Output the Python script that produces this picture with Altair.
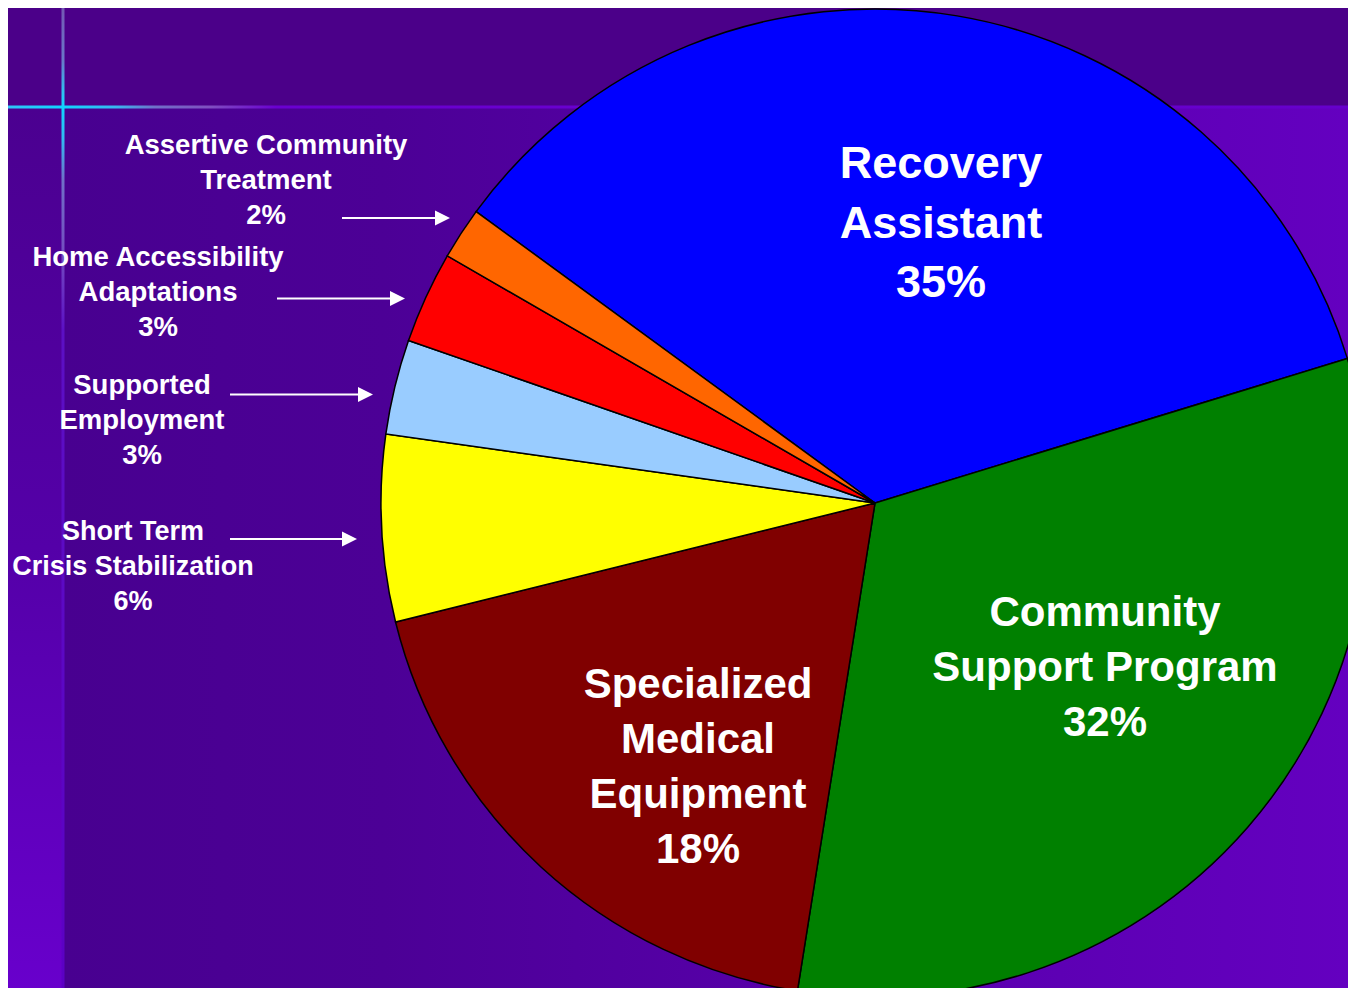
import math
import altair as alt
import pandas as pd

# ---------------- data ----------------
categories = [
    "Recovery Assistant",
    "Community Support Program",
    "Specialized Medical Equipment",
    "Short Term Crisis Stabilization",
    "Supported Employment",
    "Home Accessibility Adaptations",
    "Assertive Community Treatment",
]
shares = [35.2, 32.2, 18.6, 6.1, 3.1, 3.0, 1.7]
pct_labels = ["35%", "32%", "18%", "6%", "3%", "3%", "2%"]
label_text = [
    "Recovery\nAssistant",
    "Community\nSupport Program",
    "Specialized\nMedical\nEquipment",
    "Short Term\nCrisis Stabilization",
    "Supported\nEmployment",
    "Home Accessibility\nAdaptations",
    "Assertive Community\nTreatment",
]
slice_colors = ["#0000FF", "#008000", "#800000", "#FFFF00", "#99CCFF", "#FF0000", "#FF6600"]

df = pd.DataFrame({
    "category": categories,
    "share": shares,
    "idx": list(range(len(categories))),
    "label": [t + "\n" + p for t, p in zip(label_text, pct_labels)],
})

W, H = 1340, 980
CX, CY, R = 867, 495, 494
start = math.radians(306.15)
FONT = "Liberation Sans"

one = pd.DataFrame({"a": [0]})


def grad(stops, horizontal=True):
    return alt.LinearGradient(
        gradient="linear",
        stops=[alt.GradientStop(offset=o, color=c) for o, c in stops],
        x1=0, y1=0, x2=1 if horizontal else 0, y2=0 if horizontal else 1,
    )


def rect(x, x2, y, y2, fill):
    return alt.Chart(one).mark_rect(fill=fill, strokeWidth=0).encode(
        x=alt.value(x), x2=alt.value(x2), y=alt.value(y), y2=alt.value(y2)
    )


# ---------------- background ----------------
top_band = rect(0, W, 0, 99, "#4B0089")
main_area = rect(54, W, 99, H, grad([
    (0.0, "#480090"), (0.25, "#4C0096"), (0.55, "#5600A8"), (1.0, "#6400C0")
]))
left_strip = rect(0, 54, 99, H, grad([
    (0.0, "#4B0090"), (0.5, "#5400A8"), (1.0, "#6800CC")
], horizontal=False))


def voff(pagey):
    return max(0.0, min(1.0, (pagey - 8) / H))


h_line = rect(0, W, 97.5, 100.5, grad([
    (0.0, "#30C4F6"), (0.041, "#10D4FF"), (0.08, "#38B8F0"),
    (0.11, "#7070C8"), (0.15, "#8050C0"), (0.2, "#6A00D0"), (1.0, "#6600CC")
]))
v_line = rect(53.5, 56.5, 0, H, grad([
    (voff(8), "#7458B4"), (voff(60), "#6A78C8"), (voff(92), "#30C0F0"),
    (voff(107), "#10D4FF"), (voff(140), "#34B8F0"), (voff(180), "#7070C8"),
    (voff(250), "#7450C0"), (voff(330), "#5C10C4"), (voff(996), "#5C00C4")
], horizontal=False))

# ---------------- pie ----------------
pie = alt.Chart(df).mark_arc(radius=R, stroke="black", strokeWidth=1.5).encode(
    theta=alt.Theta("share:Q", stack=True,
                    scale=alt.Scale(range=[start, start + 2 * math.pi])),
    color=alt.Color("category:N",
                    scale=alt.Scale(domain=categories, range=slice_colors),
                    legend=None),
    order=alt.Order("idx:Q"),
    x=alt.value(CX),
    y=alt.value(CY),
)


def label(cat, x, y, size, lh):
    return alt.Chart(df).transform_filter(
        alt.datum.category == cat
    ).mark_text(
        font=FONT, fontWeight="bold", fontSize=size, color="white",
        lineBreak="\n", lineHeight=lh, align="center", baseline="middle",
    ).encode(text="label:N", x=alt.value(x), y=alt.value(y))


labels = [
    label("Recovery Assistant", 933, 156, 45, 59.5),
    label("Community Support Program", 1097, 605, 42, 55),
    label("Specialized Medical Equipment", 690, 677, 42, 55),
    label("Assertive Community Treatment", 258, 138, 27.5, 35),
    label("Home Accessibility Adaptations", 150, 250, 27.5, 35),
    label("Supported Employment", 134, 378, 27.5, 35),
    label("Short Term Crisis Stabilization", 125, 524, 27, 35),
]


def arrow(x0, tip, y):
    line = alt.Chart(one).mark_rule(color="white", strokeWidth=2).encode(
        x=alt.value(x0), x2=alt.value(tip - 12), y=alt.value(y)
    )
    head = alt.Chart(one).mark_point(
        shape="M -1 -1 L 1 0 L -1 1 Z", size=225, filled=True,
        fill="white", stroke="white", strokeWidth=0, opacity=1,
    ).encode(x=alt.value(tip - 7.5), y=alt.value(y))
    return [line, head]


arrows = (
    arrow(334, 442, 210)
    + arrow(269, 397, 290.5)
    + arrow(222, 365, 386.5)
    + arrow(222, 349, 531)
)

chart = alt.layer(
    top_band, main_area, left_strip, h_line, v_line, pie, *arrows, *labels
).properties(
    width=W, height=H, padding=0, background="#4B0090",
    autosize=alt.AutoSizeParams(type="none"),
).configure_view(stroke=None)

chart.save("out.html", embed_options={"renderer": "svg", "actions": False})
